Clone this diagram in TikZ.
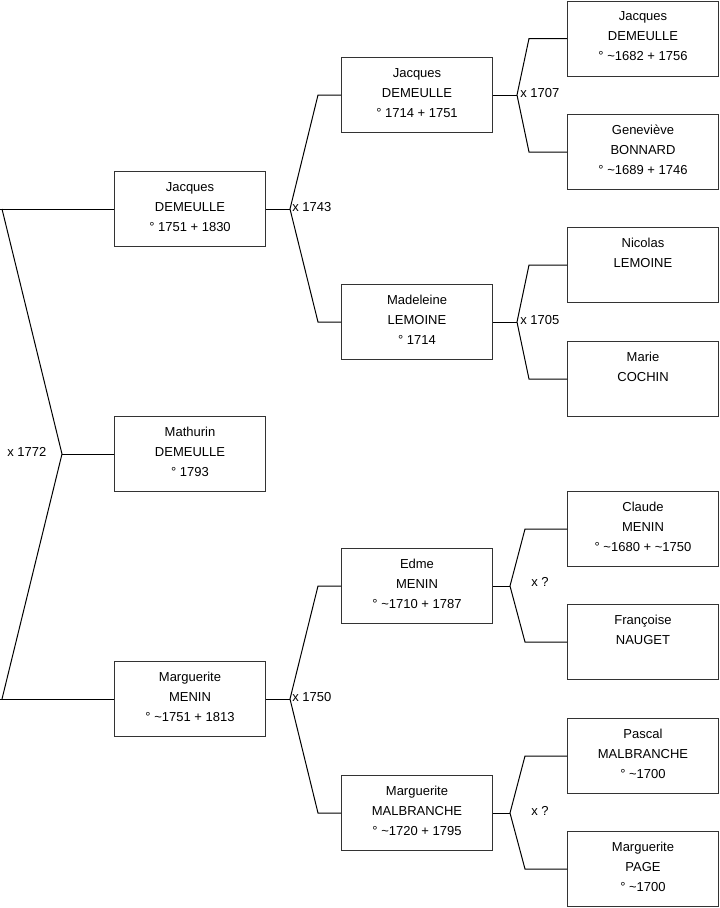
\documentclass[tikz,border=0pt]{standalone}
\usepackage{fontspec}
\setmainfont{Liberation Sans}
\tikzset{
  pbox/.style={draw=black!80, line width=0.75pt, minimum width=113.25pt, minimum height=56.25pt, inner sep=0pt, anchor=north west},
  ptxt/.style={align=center, anchor=north, inner sep=0pt, font=\fontsize{9.75pt}{15pt}\selectfont},
  conn/.style={draw=black, line width=0.75pt},
  mlab/.style={anchor=west, inner sep=0pt, font=\fontsize{9.75pt}{15pt}\selectfont}
}
\newcommand\person[4]{%
  \node[pbox] (#1) at (#2,#3) {};
  \node[ptxt] (#1t) at ([yshift=-5pt]#1.north) {\rule{0pt}{10pt}#4};
}
\begin{document}
\begin{tikzpicture}[x=0.75pt,y=-0.75pt]
\useasboundingbox (0,0) rectangle (719,908);
% generation 1
\person{jd1}{114}{171}{Jacques\\DEMEULLE\\° 1751 + 1830}
\person{md}{114}{416}{Mathurin\\DEMEULLE\\° 1793}
\person{mm1}{114}{661}{Marguerite\\MENIN\\° \textasciitilde1751 + 1813}
% generation 2
\person{jd2}{341}{57}{Jacques\\DEMEULLE\\° 1714 + 1751}
\person{ml2}{341}{284}{Madeleine\\LEMOINE\\° 1714}
\person{em2}{341}{548}{Edme\\MENIN\\° \textasciitilde1710 + 1787}
\person{mb2}{341}{775}{Marguerite\\MALBRANCHE\\° \textasciitilde1720 + 1795}
% generation 3
\person{jd3}{567}{0.5}{Jacques\\DEMEULLE\\° \textasciitilde1682 + 1756}
\person{gb3}{567}{114}{Geneviève\\BONNARD\\° \textasciitilde1689 + 1746}
\person{nl3}{567}{227}{Nicolas\\LEMOINE}
\person{mc3}{567}{341}{Marie\\COCHIN}
\person{cm3}{567}{491}{Claude\\MENIN\\° \textasciitilde1680 + \textasciitilde1750}
\person{fn3}{567}{604}{Françoise\\NAUGET}
\person{pm3}{567}{718}{Pascal\\MALBRANCHE\\° \textasciitilde1700}
\person{mp3}{567}{831}{Marguerite\\PAGE\\° \textasciitilde1700}
% root marriage
\coordinate (ra) at (62,0 |- md.west);
\draw[conn] (0,0 |- jd1.west) -- (jd1.west);
\draw[conn] (2,0 |- jd1.west) -- (ra) -- (2,0 |- mm1.west);
\draw[conn] (ra) -- (md.west);
\draw[conn] (0,0 |- mm1.west) -- (mm1.west);
\node[mlab] (l1772) at ([yshift=1.5pt]7,0 |- ra) {x 1772};
% Jacques 1751 parents
\coordinate (a1) at (290,0 |- jd1.east);
\draw[conn] (jd1.east) -- (a1);
\draw[conn] (jd2.west) -- (318,0 |- jd2.west) -- (a1) -- (318,0 |- ml2.west) -- (ml2.west);
\node[mlab] (l1743) at ([xshift=1.5pt,yshift=1.5pt]a1) {x 1743};
% Marguerite MENIN parents
\coordinate (a2) at (290,0 |- mm1.east);
\draw[conn] (mm1.east) -- (a2);
\draw[conn] (em2.west) -- (318,0 |- em2.west) -- (a2) -- (318,0 |- mb2.west) -- (mb2.west);
\node[mlab] (l1750) at ([xshift=1.5pt,yshift=1.5pt]a2) {x 1750};
% Jacques 1714 parents
\coordinate (a3) at (517,0 |- jd2.east);
\draw[conn] (jd2.east) -- (a3);
\draw[conn] (jd3.west) -- (529,0 |- jd3.west) -- (a3) -- (529,0 |- gb3.west) -- (gb3.west);
\node[mlab] (l1707) at ([xshift=2.25pt,yshift=1.5pt]a3) {x 1707};
% Madeleine parents
\coordinate (a4) at (517,0 |- ml2.east);
\draw[conn] (ml2.east) -- (a4);
\draw[conn] (nl3.west) -- (529,0 |- nl3.west) -- (a4) -- (529,0 |- mc3.west) -- (mc3.west);
\node[mlab] (l1705) at ([xshift=2.25pt,yshift=1.5pt]a4) {x 1705};
% Edme parents
\coordinate (a5) at (510,0 |- em2.east);
\draw[conn] (em2.east) -- (a5);
\draw[conn] (cm3.west) -- (525,0 |- cm3.west) -- (a5) -- (525,0 |- fn3.west) -- (fn3.west);
\node[mlab] (lq1) at ([xshift=15.75pt,yshift=3pt]a5) {x ?};
% Marguerite MALBRANCHE parents
\coordinate (a6) at (510,0 |- mb2.east);
\draw[conn] (mb2.east) -- (a6);
\draw[conn] (pm3.west) -- (525,0 |- pm3.west) -- (a6) -- (525,0 |- mp3.west) -- (mp3.west);
\node[mlab] (lq2) at ([xshift=15.75pt,yshift=1.5pt]a6) {x ?};
\end{tikzpicture}
\end{document}
